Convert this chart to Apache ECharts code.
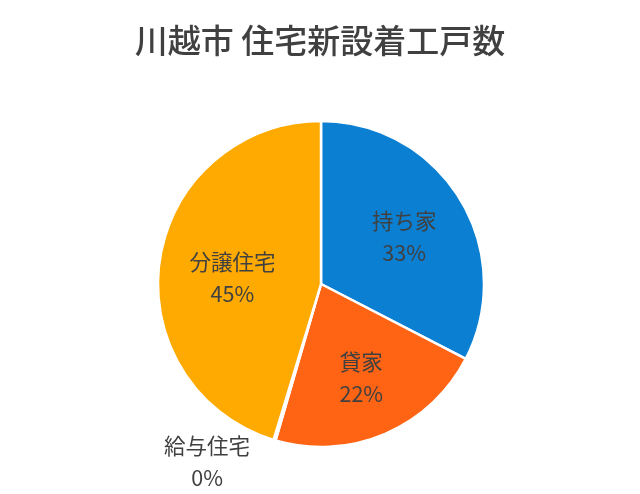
<!DOCTYPE html>
<html><head><meta charset="utf-8">
<script src="https://cdn.jsdelivr.net/npm/echarts@6/dist/echarts.min.js"></script>
<style>html,body{margin:0;padding:0;background:#fff}#c{width:640px;height:494px}</style>
</head><body><div id="c"></div>
<script>
const categories = ['持ち家', '貸家', '給与住宅', '分譲住宅'];
const values = [32.6, 21.9, 0.2, 45.3];
const colors = ['#0B7FD2', '#FF6314', '#A5A5A5', '#FFAA00'];
const titleText = '川越市 住宅新設着工戸数';

const labelShift = [[11, -3], [7, 16], [-59, 10], [-5, 6]];

const chart = echarts.init(document.getElementById('c'));
const data = categories.map((n, i) => {
  const item = { name: n, value: values[i], itemStyle: { color: colors[i] } };
  if (i === 2) {
    item.label = { position: 'outside' };
    item.labelLine = { show: false, length: 12, length2: 0 };
  }
  return item;
});
chart.setOption({
  animation: false,
  title: {
    text: titleText, left: 'center', top: 19,
    textStyle: { fontFamily: 'Noto Sans CJK JP', fontSize: 33, fontWeight: 500, color: '#404040' }
  },
  series: [{
    type: 'pie',
    center: [321, 284],
    radius: [0, 163],
    startAngle: 90,
    clockwise: true,
    avoidLabelOverlap: false,
    itemStyle: { borderColor: '#fff', borderWidth: 2.5 },
    label: {
      show: true, position: 'inside',
      fontFamily: 'Noto Sans CJK JP', fontSize: 21.5, color: '#404040', lineHeight: 32,
      formatter: p => p.name + '\n' + Math.round(p.percent) + '%'
    },
    labelLayout: p => {
      const s = labelShift[p.dataIndex];
      const o = { dx: s[0], dy: s[1] };
      if (p.dataIndex === 2) o.align = 'center';
      return o;
    },
    data: data
  }]
});
</script></body></html>
